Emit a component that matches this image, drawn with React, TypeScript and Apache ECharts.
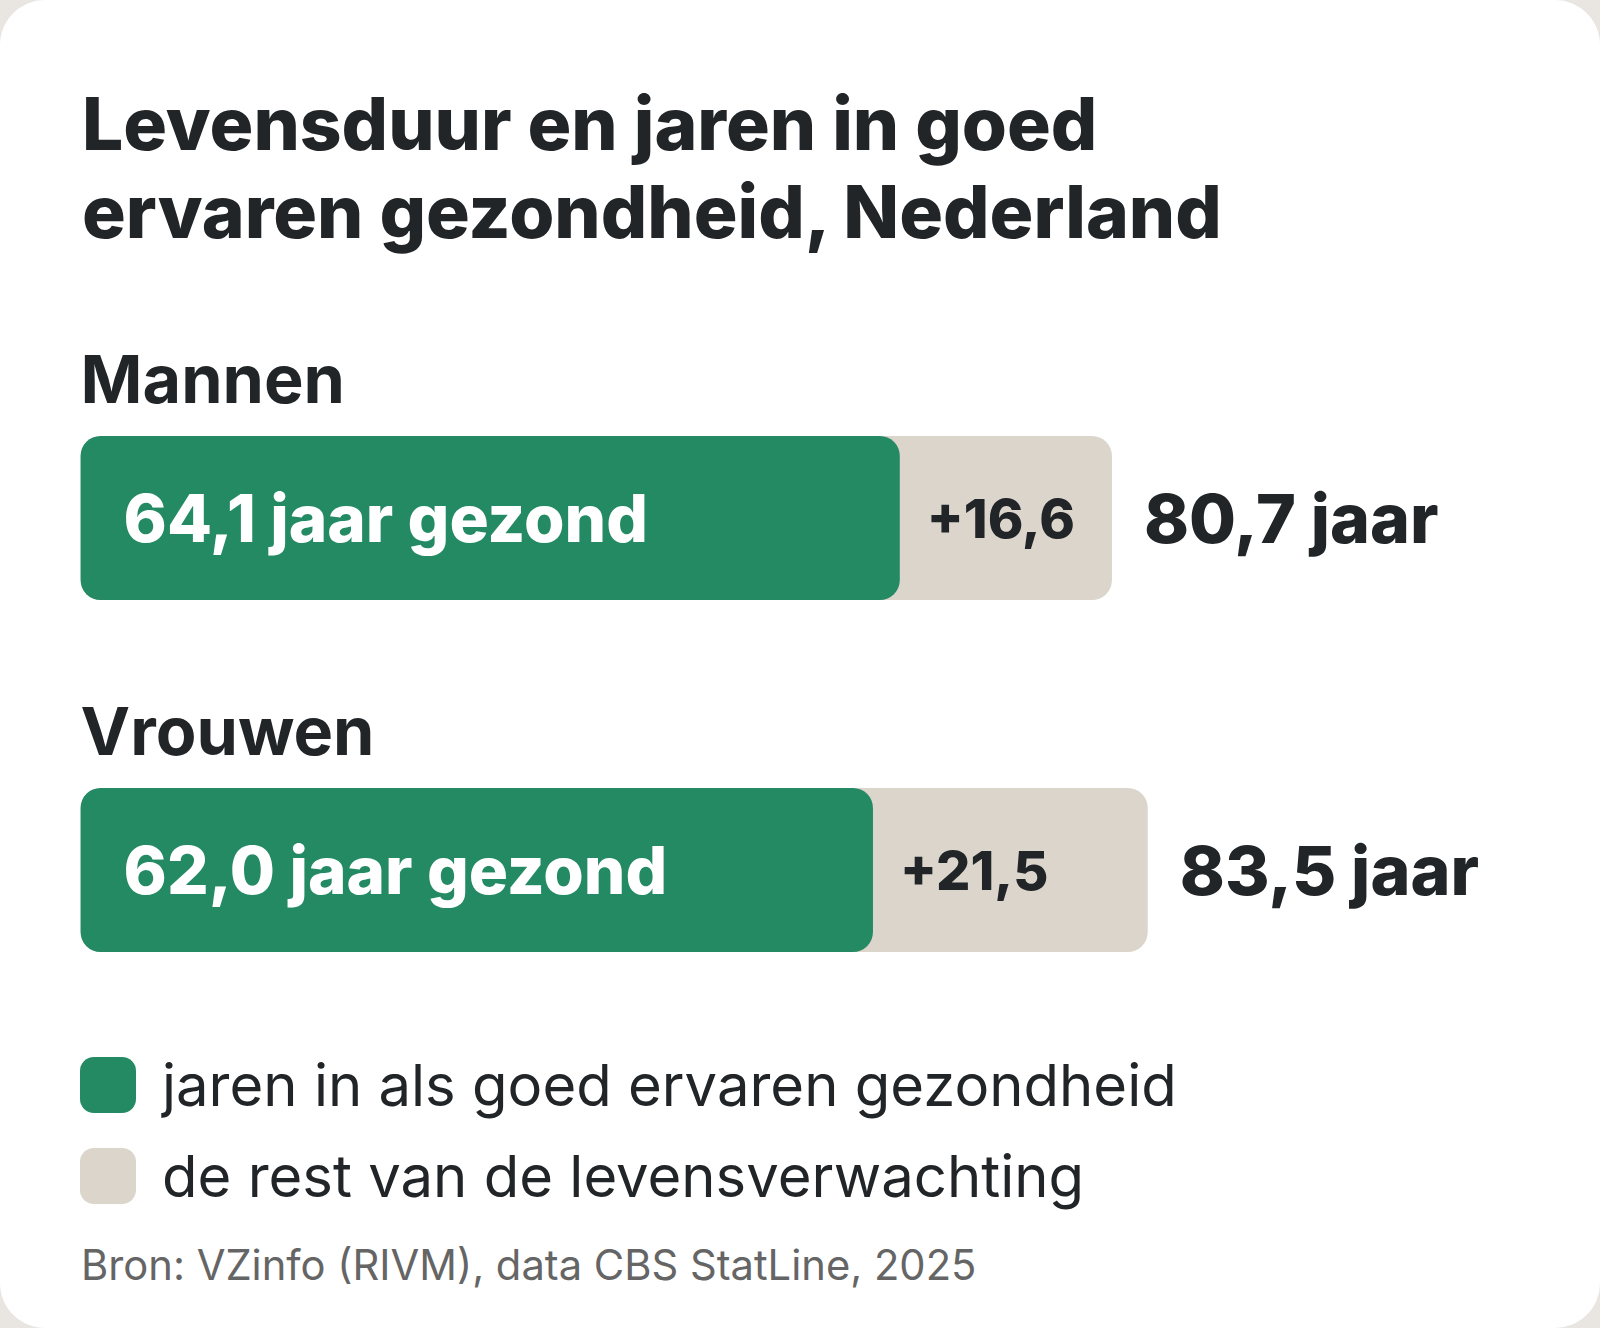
import React, { useEffect, useRef } from "react";
import * as echarts from "echarts";

const categories = ["Mannen", "Vrouwen"];
const healthyYears = [64.1, 62.0];
const totalYears = [80.7, 83.5];
const seriesNames = ["jaren in als goed ervaren gezondheid", "de rest van de levensverwachting"];
const titleText = "Levensduur en jaren in goed\nervaren gezondheid, Nederland";
const sourceText = "Bron: VZinfo (RIVM), data CBS StatLine, 2025";

const GREEN = "#238a64";
const GREY = "#dbd5cc";
const DARK = "#222528";
const FONT = "Inter";

const fmt = (v: number) => v.toFixed(1).replace(".", ",");

export default function App() {
  const ref = useRef<HTMLDivElement>(null);
  useEffect(() => {
    if (!ref.current) return;
    const chart = echarts.init(ref.current, null, { renderer: "svg" });
    const rest = totalYears.map((t, i) => +(t - healthyYears[i]).toFixed(1));
    const barW = 164;
    chart.setOption({
      animation: false,
      backgroundColor: "#e9e6e1",
      textStyle: { fontFamily: FONT },
      title: {
        text: titleText,
        left: 82,
        top: 79,
        padding: 0,
        textStyle: { fontFamily: FONT, fontSize: 73, fontWeight: 800, lineHeight: 88, color: DARK },
      },
      graphic: [
        { type: "rect", z: -10, shape: { x: 0, y: 0, width: 1600, height: 1328, r: 45 }, style: { fill: "#ffffff" } },
        {
          type: "text",
          left: 81,
          top: 1244,
          style: { text: sourceText, font: `400 41.7px ${FONT}`, fill: "#656565" },
        },
      ],
      legend: {
        data: [seriesNames[0], seriesNames[1]],
        orient: "vertical",
        left: 80,
        top: 1056,
        padding: 0,
        itemWidth: 56,
        itemHeight: 56,
        itemGap: 33,
        icon: "roundRect",
        selectedMode: false,
        textStyle: { fontFamily: FONT, fontSize: 58, color: DARK, padding: [0, 0, 0, 21] },
      },
      grid: { left: 80.6, top: 342, width: 1278, height: 704 },
      xAxis: { type: "value", min: 0, max: 100, show: false },
      yAxis: { type: "category", data: categories, inverse: true, show: false },
      series: [
        {
          name: seriesNames[1],
          type: "bar",
          data: totalYears,
          barWidth: barW,
          barGap: "-100%",
          itemStyle: { color: GREY, borderRadius: 20 },
          label: {
            show: true,
            position: "right",
            distance: 32,
            formatter: (p: any) => `${fmt(p.value)} jaar`,
            fontFamily: FONT,
            fontSize: 68,
            fontWeight: 800,
            color: DARK,
          },
          silent: true,
        },
        {
          name: seriesNames[0],
          type: "bar",
          data: healthyYears,
          barWidth: barW,
          barGap: "-100%",
          itemStyle: { color: GREEN, borderRadius: 20 },
          label: {
            show: true,
            position: "insideLeft",
            distance: 43,
            formatter: (p: any) => `${fmt(p.value)} jaar gezond`,
            fontFamily: FONT,
            fontSize: 65.5,
            fontWeight: 800,
            color: "#ffffff",
          },
          silent: true,
        },
        {
          name: "restLabel",
          type: "bar",
          data: healthyYears,
          barWidth: barW,
          barGap: "-100%",
          itemStyle: { color: "rgba(0,0,0,0)" },
          label: {
            show: true,
            position: "right",
            distance: 27,
            formatter: (p: any) => `+${fmt(rest[p.dataIndex])}`,
            fontFamily: FONT,
            fontSize: 54,
            fontWeight: 800,
            color: DARK,
          },
          silent: true,
        },
        {
          name: "catLabel",
          type: "bar",
          data: totalYears,
          barWidth: barW,
          barGap: "-100%",
          itemStyle: { color: "rgba(0,0,0,0)" },
          label: {
            show: true,
            position: [0, -57],
            align: "left",
            verticalAlign: "middle",
            formatter: (p: any) => categories[p.dataIndex],
            fontFamily: FONT,
            fontSize: 66.5,
            fontWeight: 700,
            color: DARK,
          },
          silent: true,
        },
      ],
    });
    return () => chart.dispose();
  }, []);
  return (
    <div style={{ position: "fixed", left: 0, top: 0, width: 1600, height: 1328 }}>
      <div ref={ref} style={{ width: 1600, height: 1328 }} />
    </div>
  );
}
